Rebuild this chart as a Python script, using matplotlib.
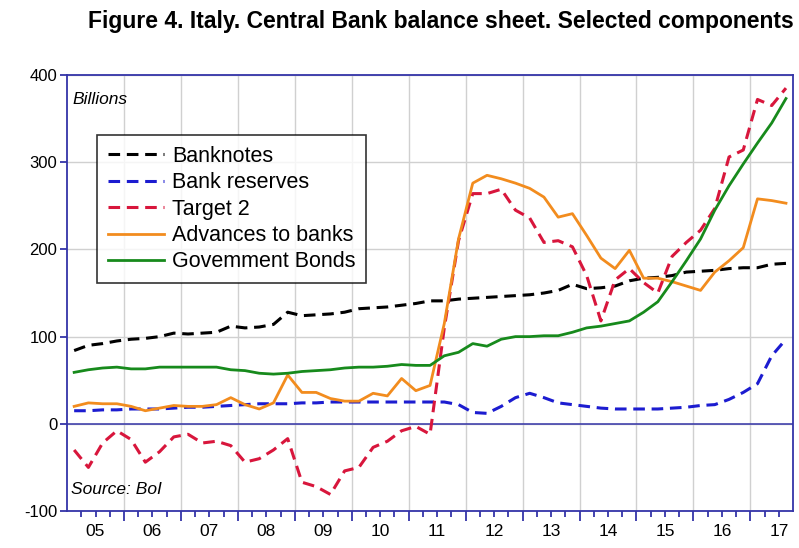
import numpy as np
import matplotlib.pyplot as plt

plt.rcParams['font.family'] = ['Liberation Sans', 'DejaVu Sans']
plt.rcParams['axes.unicode_minus'] = False

# quarterly observations, 2005Q1 - 2017Q3 (billions of euro)
banknotes = [84, 90, 92, 95, 97, 98, 100, 104, 103, 104, 105, 112, 110, 111, 114, 128,
             124, 125, 126, 128, 132, 133, 134, 136, 138, 141, 141, 143, 144, 145, 146, 147,
             148, 150, 153, 160, 155, 156, 158, 164, 167, 168, 170, 174, 175, 176, 178, 179,
             179, 183, 184]
bank_reserves = [15, 15, 16, 16, 17, 17, 17, 18, 19, 19, 20, 21, 22, 23, 23, 23,
                 24, 24, 25, 25, 25, 25, 25, 25, 25, 25, 25, 22, 13, 12, 20, 30,
                 35, 30, 24, 22, 20, 18, 17, 17, 17, 17, 18, 19, 21, 22, 28, 36,
                 46, 78, 97]
target2 = [-30, -50, -22, -8, -18, -44, -32, -15, -12, -22, -20, -25, -44, -40, -30, -17,
           -67, -72, -81, -54, -50, -27, -20, -8, -3, -12, 110, 210, 264, 264, 269, 245,
           236, 208, 210, 203, 170, 118, 165, 178, 162, 150, 192, 208, 222, 247, 306, 314,
           372, 365, 385]
advances = [20, 24, 23, 23, 20, 15, 18, 21, 20, 20, 22, 30, 22, 17, 24, 56,
            36, 36, 29, 26, 26, 35, 32, 52, 38, 44, 115, 212, 276, 285, 281, 276,
            270, 260, 237, 241, 216, 190, 178, 199, 167, 167, 163, 158, 153, 174, 187, 202,
            258, 256, 253]
gov_bonds = [59, 62, 64, 65, 63, 63, 65, 65, 65, 65, 65, 62, 61, 58, 57, 58,
             60, 61, 62, 64, 65, 65, 66, 68, 67, 67, 78, 82, 92, 89, 97, 100,
             100, 101, 101, 105, 110, 112, 115, 118, 128, 140, 163, 187, 212, 245, 273, 298,
             322, 345, 373]

years = list(range(2005, 2018))
year_labels = ['05', '06', '07', '08', '09', '10', '11', '12', '13', '14', '15', '16', '17']
y_ticks = [-100, 0, 100, 200, 300, 400]

n = len(banknotes)
t = 2005 + (np.arange(n) + 0.5) / 4

frame_col = '#3434a8'

fig = plt.figure(figsize=(7.99, 5.48), dpi=100)
ax = fig.add_axes([0.0839, 0.0675, 0.9087, 0.7956])

ax.plot(t, banknotes, color='black', lw=2.2, dashes=(3.8, 2.2), label='Banknotes')
ax.plot(t, bank_reserves, color='#1c1cd0', lw=2.2, dashes=(3.8, 2.2), label='Bank reserves')
ax.plot(t, target2, color='#d8163c', lw=2.2, dashes=(3.8, 2.2), label='Target 2')
ax.plot(t, advances, color='#f28c1e', lw=2.0, label='Advances to banks')
ax.plot(t, gov_bonds, color='#178a1c', lw=2.0, label='Govemment Bonds')

ax.axhline(0, color=frame_col, lw=1.1, zorder=1)

ax.set_xlim(2005, 2017.75)
ax.set_ylim(-100, 400)

# year boundaries: long ticks + grid, quarters: short ticks, labels in mid-year
ax.set_xticks(years[1:])
ax.set_xticklabels([])
quarters = [y + q / 4 for y in years for q in (1, 2, 3) if y + q / 4 < 2017.75]
q_labels = [year_labels[int(q) - 2005] if abs(q % 1 - 0.5) < 1e-6 else '' for q in quarters]
ax.set_xticks(quarters, labels=q_labels, minor=True)
ax.tick_params(axis='x', which='major', length=7, width=1.3, color=frame_col, direction='out')
ax.tick_params(axis='x', which='minor', length=4, width=1.3, color=frame_col, direction='out',
               labelsize=12.5, pad=5)

ax.set_yticks(y_ticks)
ax.tick_params(axis='y', length=5, width=1.3, color=frame_col, labelsize=12, pad=2)

ax.grid(True, which='major', color='#d0d0d0', lw=1.0)
ax.set_axisbelow(True)
for s in ax.spines.values():
    s.set_color(frame_col)
    s.set_linewidth(1.3)

ax.text(0.008, 0.945, 'Billions', transform=ax.transAxes, fontsize=12.5, style='italic',
        va='center', ha='left')
ax.text(0.005, 0.05, 'Source: BoI', transform=ax.transAxes, fontsize=12.5, style='italic',
        va='center', ha='left')

leg = ax.legend(loc='upper left', bbox_to_anchor=(0.041, 0.862), fontsize=15.5,
                frameon=True, fancybox=False, edgecolor='black', handlelength=2.6,
                handletextpad=0.4, borderpad=0.5, labelspacing=0.25, borderaxespad=0)
leg.get_frame().set_linewidth(1.2)

fig.text(0.993, 0.96, 'Figure 4. Italy. Central Bank balance sheet. Selected components',
         ha='right', va='center', fontsize=16.5, fontweight='bold')

fig.savefig('out.png', dpi=100)
